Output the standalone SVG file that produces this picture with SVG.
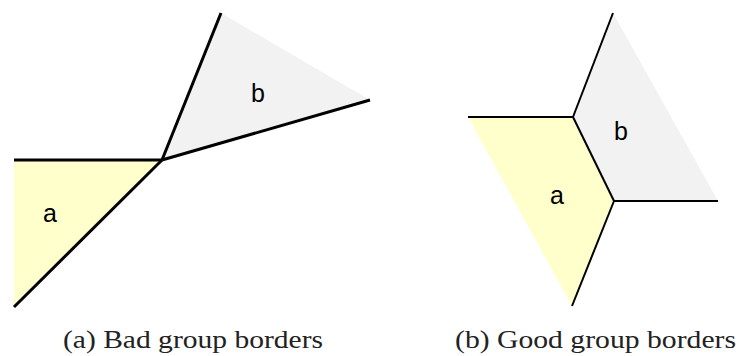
<svg xmlns="http://www.w3.org/2000/svg" width="739" height="356" viewBox="0 0 739 356">
<style>
.ya{fill:#ffffcc;stroke:none}
.gb{fill:#f2f2f2;stroke:none}
.e1{stroke:#000;stroke-width:3;fill:none;stroke-linecap:butt}
.e2{stroke:#000;stroke-width:2;fill:none}
</style>
<rect width="739" height="356" fill="#fff"/>
<g id="bad-a">
<polygon class="ya" points="14,160 162,160 14,307"/>
<text x="50" y="222" font-family="Liberation Sans, Arial, sans-serif" font-size="25" text-anchor="middle">a</text>
</g>
<g id="bad-b">
<polygon class="gb" points="221,13 370,100 162,160"/>
<text x="258" y="102" font-family="Liberation Sans, Arial, sans-serif" font-size="25" text-anchor="middle">b</text>
</g>
<g id="good-a">
<polygon class="ya" points="468,117 573,117 614,201 572,306"/>
<text x="557" y="204" font-family="Liberation Sans, Arial, sans-serif" font-size="25" text-anchor="middle">a</text>
</g>
<g id="good-b">
<polygon class="gb" points="613,13 573,117 614,201 718,201"/>
<text x="621" y="140" font-family="Liberation Sans, Arial, sans-serif" font-size="25" text-anchor="middle">b</text>
</g>
<g id="connectors">
<polyline class="e1" points="14,160 162,160"/>
<polyline class="e1" points="14,307 162,160"/>
<polyline class="e1" points="221,13 162,160"/>
<polyline class="e1" points="370,100 162,160"/>
<polyline class="e2" points="468,117 573,117"/>
<polyline class="e2" points="613,13 573,117"/>
<polyline class="e2" points="573,117 614,201"/>
<polyline class="e2" points="614,201 718,201"/>
<polyline class="e2" points="614,201 572,306"/>
</g>
<text x="63" y="348" font-family="Liberation Serif, Times New Roman, serif" font-size="25" fill="#222" textLength="260" lengthAdjust="spacingAndGlyphs">(a) Bad group borders</text>
<text x="455" y="348" font-family="Liberation Serif, Times New Roman, serif" font-size="25" fill="#222" textLength="281" lengthAdjust="spacingAndGlyphs">(b) Good group borders</text>
</svg>
